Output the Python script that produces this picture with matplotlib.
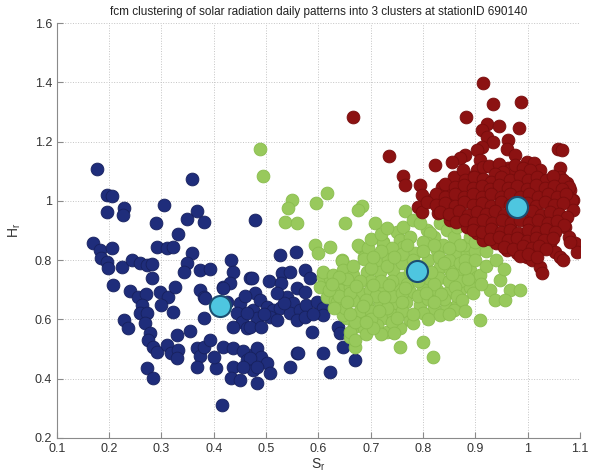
import matplotlib
matplotlib.use("Agg")
import matplotlib.pyplot as plt
import numpy as np

plt.rcParams['font.family'] = ['Liberation Sans', 'DejaVu Sans']

# cluster 1 (navy)
blue_pts = [
    (0.176, 1.107), (0.359, 1.074), (0.195, 1.020), (0.205, 1.017), (0.195, 0.962),
    (0.229, 0.977), (0.227, 0.952), (0.305, 0.986), (0.367, 0.967), (0.348, 0.938),
    (0.381, 0.930), (0.289, 0.927), (0.479, 0.936), (0.332, 0.888),
    (0.169, 0.857), (0.182, 0.834), (0.205, 0.840), (0.185, 0.806), (0.195, 0.795),
    (0.198, 0.773), (0.224, 0.778), (0.243, 0.801), (0.259, 0.789), (0.272, 0.784),
    (0.281, 0.787), (0.292, 0.843), (0.310, 0.840), (0.322, 0.845), (0.359, 0.825),
    (0.348, 0.789), (0.343, 0.761), (0.373, 0.767), (0.392, 0.769), (0.432, 0.801),
    (0.436, 0.761), (0.281, 0.739), (0.208, 0.716), (0.240, 0.697), (0.256, 0.677),
    (0.270, 0.686), (0.297, 0.694), (0.313, 0.677), (0.326, 0.711), (0.373, 0.700),
    (0.381, 0.677), (0.418, 0.711), (0.431, 0.722), (0.470, 0.739),
    (0.262, 0.649), (0.259, 0.621), (0.273, 0.621), (0.322, 0.626), (0.228, 0.598),
    (0.236, 0.570), (0.268, 0.587), (0.381, 0.604), (0.450, 0.655), (0.444, 0.621),
    (0.453, 0.593), (0.463, 0.570), (0.475, 0.632), (0.482, 0.604), (0.437, 0.576),
    (0.278, 0.555), (0.275, 0.531), (0.284, 0.508), (0.291, 0.491), (0.329, 0.548),
    (0.310, 0.514), (0.319, 0.486), (0.332, 0.497), (0.329, 0.469), (0.367, 0.503),
    (0.373, 0.477), (0.381, 0.508), (0.393, 0.531), (0.367, 0.441), (0.404, 0.435),
    (0.418, 0.508), (0.437, 0.503), (0.455, 0.495), (0.437, 0.441), (0.432, 0.402),
    (0.450, 0.396), (0.463, 0.463), (0.475, 0.430), (0.479, 0.486), (0.273, 0.435),
    (0.283, 0.402), (0.415, 0.312), (0.482, 0.385),
    (0.526, 0.818), (0.557, 0.827), (0.418, 0.705), (0.472, 0.739), (0.506, 0.731),
    (0.530, 0.756), (0.546, 0.761), (0.528, 0.722), (0.574, 0.767), (0.584, 0.739),
    (0.383, 0.671), (0.463, 0.621), (0.469, 0.576), (0.479, 0.688), (0.488, 0.666),
    (0.501, 0.643), (0.514, 0.632), (0.526, 0.638), (0.507, 0.609), (0.520, 0.598),
    (0.491, 0.576), (0.539, 0.677), (0.552, 0.655), (0.545, 0.621), (0.558, 0.705),
    (0.574, 0.694), (0.565, 0.632), (0.577, 0.649), (0.597, 0.660), (0.609, 0.638),
    (0.558, 0.598), (0.574, 0.609), (0.587, 0.559), (0.609, 0.615), (0.482, 0.503),
    (0.491, 0.475), (0.501, 0.452), (0.469, 0.469), (0.482, 0.441), (0.456, 0.441),
    (0.558, 0.486), (0.609, 0.486), (0.546, 0.441), (0.507, 0.419),
    (0.561, 0.488), (0.670, 0.463), (0.647, 0.508), (0.622, 0.424), (0.638, 0.576),
    (0.641, 0.553), (0.495, 0.620), (0.535, 0.655), (0.590, 0.620), (0.520, 0.690),
    (0.425, 0.660), (0.460, 0.680), (0.300, 0.650), (0.355, 0.560), (0.400, 0.475),
]

# cluster 2 (light green)
green_pts = [
    (0.489, 1.177), (0.494, 1.084), (0.616, 1.028), (0.549, 1.003), (0.542, 0.975),
    (0.596, 0.994), (0.683, 0.983), (0.676, 0.969), (0.536, 0.930), (0.558, 0.927),
    (0.651, 0.924), (0.765, 0.967), (0.593, 0.851), (0.600, 0.823), (0.622, 0.846),
    (0.644, 0.801), (0.679, 0.846), (0.692, 0.834), (0.686, 0.812), (0.724, 0.862),
    (0.750, 0.896), (0.762, 0.913), (0.756, 0.868), (0.775, 0.879), (0.781, 0.936),
    (0.807, 0.902), (0.820, 0.879), (0.832, 0.925), (0.845, 0.902), (0.858, 0.879),
    (0.864, 0.913), (0.708, 0.925), (0.794, 0.925), (0.813, 0.891),
    (0.654, 0.604), (0.667, 0.576), (0.660, 0.542), (0.670, 0.508), (0.756, 0.508),
    (0.800, 0.525), (0.818, 0.475),
    (0.609, 0.744), (0.622, 0.739), (0.635, 0.722), (0.641, 0.700), (0.603, 0.711),
    (0.616, 0.677), (0.632, 0.666),
    (0.676, 0.851), (0.695, 0.840), (0.723, 0.857), (0.742, 0.834), (0.762, 0.846),
    (0.784, 0.823), (0.807, 0.857), (0.826, 0.834), (0.838, 0.851), (0.864, 0.829),
    (0.883, 0.823), (0.644, 0.796), (0.686, 0.804), (0.711, 0.789), (0.733, 0.801),
    (0.609, 0.761), (0.628, 0.750), (0.647, 0.767), (0.666, 0.750), (0.692, 0.761),
    (0.718, 0.761), (0.742, 0.767), (0.832, 0.778), (0.851, 0.767), (0.871, 0.756),
    (0.890, 0.767), (0.902, 0.744),
    (0.628, 0.700), (0.660, 0.711), (0.679, 0.689), (0.698, 0.700), (0.723, 0.700),
    (0.748, 0.711), (0.774, 0.694), (0.800, 0.711), (0.826, 0.700), (0.845, 0.689),
    (0.871, 0.700), (0.890, 0.711),
    (0.635, 0.660), (0.666, 0.666), (0.692, 0.649), (0.718, 0.660), (0.749, 0.649),
    (0.768, 0.660), (0.794, 0.649), (0.820, 0.638), (0.845, 0.643), (0.864, 0.649),
    (0.647, 0.615), (0.673, 0.604), (0.698, 0.609), (0.723, 0.604), (0.742, 0.615),
    (0.774, 0.598), (0.800, 0.621), (0.832, 0.615), (0.858, 0.632),
    (0.660, 0.559), (0.686, 0.570), (0.711, 0.581), (0.730, 0.559), (0.756, 0.570),
    (0.781, 0.587), (0.669, 0.531), (0.909, 0.598), (0.896, 0.688),
    (0.909, 0.750), (0.928, 0.700), (0.947, 0.733), (0.966, 0.700), (0.937, 0.666),
    (0.985, 0.700), (0.956, 0.666),
    (0.760, 0.790), (0.780, 0.800), (0.810, 0.800), (0.830, 0.810), (0.850, 0.800),
    (0.870, 0.790), (0.760, 0.740), (0.740, 0.730), (0.810, 0.740), (0.830, 0.740),
    (0.850, 0.730), (0.870, 0.730), (0.700, 0.730), (0.720, 0.730), (0.680, 0.730),
    (0.770, 0.720), (0.790, 0.730), (0.820, 0.720), (0.860, 0.710), (0.710, 0.680),
    (0.740, 0.680), (0.760, 0.690), (0.790, 0.680), (0.810, 0.670), (0.840, 0.670),
    (0.650, 0.640), (0.680, 0.630), (0.700, 0.630), (0.730, 0.640), (0.760, 0.630),
    (0.780, 0.620), (0.700, 0.600), (0.690, 0.550), (0.740, 0.590), (0.720, 0.550),
    (0.670, 0.590), (0.640, 0.680), (0.660, 0.690), (0.620, 0.700), (0.880, 0.850),
    (0.900, 0.830), (0.880, 0.800), (0.900, 0.800), (0.920, 0.780), (0.890, 0.880),
    (0.870, 0.850), (0.700, 0.870), (0.720, 0.890), (0.740, 0.840), (0.800, 0.860),
    (0.820, 0.850),
    (0.655, 0.735), (0.672, 0.712), (0.705, 0.715), (0.735, 0.715), (0.765, 0.705),
    (0.805, 0.690), (0.835, 0.685), (0.865, 0.680), (0.885, 0.735), (0.855, 0.755),
    (0.815, 0.760), (0.775, 0.760), (0.730, 0.780), (0.700, 0.775), (0.665, 0.780),
    (0.640, 0.745), (0.625, 0.720), (0.690, 0.665), (0.725, 0.675), (0.760, 0.660),
    (0.820, 0.660), (0.850, 0.620), (0.810, 0.600), (0.750, 0.605), (0.715, 0.630),
    (0.685, 0.645), (0.655, 0.660), (0.705, 0.570), (0.745, 0.555), (0.690, 0.590),
    (0.760, 0.820), (0.800, 0.830), (0.850, 0.840), (0.720, 0.830), (0.705, 0.810),
    (0.745, 0.810), (0.790, 0.780), (0.840, 0.790), (0.880, 0.775), (0.910, 0.720),
    (0.875, 0.665), (0.660, 0.620), (0.630, 0.640), (0.880, 0.630), (0.730, 0.910),
    (0.770, 0.850), (0.900, 0.860), (0.920, 0.830), (0.940, 0.800), (0.955, 0.770),
]

# cluster 3 (dark red)
red_pts = [
    (0.665, 1.282), (0.914, 1.397), (0.933, 1.329), (0.987, 1.335), (0.882, 1.284),
    (0.922, 1.259), (0.944, 1.253), (0.912, 1.241), (0.984, 1.245), (0.922, 1.217),
    (0.934, 1.200), (0.912, 1.183), (0.902, 1.172), (0.963, 1.205), (0.960, 1.177),
    (0.976, 1.155), (1.058, 1.177), (1.065, 1.172), (0.735, 1.151), (0.880, 1.155),
    (0.871, 1.144), (0.855, 1.132), (0.823, 1.121), (0.909, 1.138), (0.902, 1.104),
    (0.915, 1.115), (0.963, 1.110), (0.966, 1.104), (0.998, 1.132), (1.011, 1.127),
    (1.024, 1.104), (1.062, 1.110), (1.062, 1.082), (1.075, 1.059), (1.081, 1.037),
    (1.087, 1.003), (0.762, 1.084), (0.765, 1.054), (0.794, 1.054), (0.797, 1.020),
    (0.820, 1.009), (0.791, 0.980), (0.797, 0.964), (0.836, 1.048), (0.851, 1.037),
    (0.867, 1.026), (0.858, 1.082), (0.890, 1.082), (0.877, 1.104), (0.848, 0.992),
    (0.829, 0.958), (0.845, 0.958), (1.071, 0.913), (1.078, 0.879), (1.090, 0.857),
    (1.094, 0.829), (1.036, 0.891), (1.043, 0.857), (1.052, 0.829), (1.062, 0.812),
    (0.998, 0.840), (1.011, 0.812),
    (0.851, 0.936), (0.871, 0.947), (0.883, 0.913), (0.902, 0.891), (0.915, 0.868),
    (0.940, 0.857), (0.960, 0.834), (0.979, 0.823), (0.998, 0.812), (1.008, 0.801),
    (1.024, 0.778), (1.027, 0.756), (1.068, 0.801), (1.081, 0.862), (1.068, 1.070),
    (1.078, 1.048), (1.084, 1.003), (1.087, 0.969),
    (0.925, 1.118), (0.945, 1.125), (0.952, 1.098), (0.975, 1.120), (0.990, 1.112),
    (1.005, 1.105), (0.938, 1.090),
    (0.880, 1.070), (0.897, 1.080), (0.915, 1.075), (0.930, 1.065), (0.948, 1.082),
    (0.965, 1.072), (0.985, 1.085), (1.000, 1.070), (1.018, 1.080), (1.035, 1.072),
    (1.048, 1.085),
    (0.842, 1.058), (0.860, 1.048), (0.878, 1.055), (0.895, 1.045), (0.912, 1.052),
    (0.928, 1.042), (0.945, 1.055), (0.962, 1.045), (0.980, 1.052), (0.998, 1.042),
    (1.015, 1.055), (1.032, 1.045), (1.050, 1.052), (1.065, 1.040),
    (0.825, 1.025), (0.842, 1.015), (0.860, 1.022), (0.878, 1.012), (0.895, 1.025),
    (0.912, 1.015), (0.930, 1.022), (0.948, 1.012), (0.965, 1.025), (0.985, 1.015),
    (1.002, 1.022), (1.020, 1.012), (1.038, 1.025), (1.055, 1.015), (1.072, 1.022),
    (0.808, 0.995), (0.825, 0.985), (0.842, 0.992), (0.860, 0.982), (0.878, 0.995),
    (0.895, 0.985), (0.912, 0.992), (0.930, 0.982), (0.948, 0.995), (0.965, 0.985),
    (0.998, 0.992), (1.015, 0.982), (1.032, 0.995), (1.050, 0.985), (1.068, 0.992),
    (0.832, 0.962), (0.850, 0.955), (0.868, 0.965), (0.885, 0.952), (0.902, 0.962),
    (0.920, 0.955), (0.938, 0.965), (0.955, 0.952), (0.972, 0.962), (0.990, 0.955),
    (1.008, 0.965), (1.025, 0.952), (1.042, 0.962), (1.060, 0.955), (1.075, 0.945),
    (0.862, 0.928), (0.880, 0.935), (0.898, 0.925), (0.915, 0.935), (0.932, 0.925),
    (0.950, 0.935), (0.968, 0.925), (0.985, 0.935), (1.002, 0.925), (1.020, 0.935),
    (1.038, 0.925), (1.055, 0.932), (1.070, 0.920),
    (0.895, 0.902), (0.912, 0.895), (0.930, 0.905), (0.948, 0.895), (0.965, 0.902),
    (0.982, 0.892), (1.000, 0.902), (1.018, 0.895), (1.035, 0.905), (1.052, 0.895),
    (0.928, 0.872), (0.945, 0.878), (0.962, 0.868), (0.980, 0.875), (0.998, 0.865),
    (1.015, 0.875), (1.030, 0.868), (1.048, 0.875),
    (0.955, 0.845), (0.972, 0.838), (0.990, 0.848), (1.008, 0.840), (1.022, 0.848),
    (1.035, 0.838), (0.985, 0.815), (1.000, 0.820), (1.018, 0.810),
]

# cluster centres
centers_x = [0.412, 0.789, 0.979]
centers_y = [0.646, 0.763, 0.980]

xticks = [0.1, 0.2, 0.3, 0.4, 0.5, 0.6, 0.7, 0.8, 0.9, 1, 1.1]
yticks = [0.2, 0.4, 0.6, 0.8, 1, 1.2, 1.4, 1.6]

fig = plt.figure(figsize=(5.92, 4.74), dpi=100)
ax = fig.add_axes([0.096, 0.076, 0.884, 0.875])

for pts, col, edge in [(blue_pts, '#1f2d7b', '#17215e'),
                       (green_pts, '#98c95c', '#8abd4e'),
                       (red_pts, '#8c1212', '#780c0c')]:
    p = np.array(pts)
    ax.scatter(p[:, 0], p[:, 1], s=85, c=col, edgecolors=edge, linewidths=0.6, zorder=3)

ax.scatter(centers_x, centers_y, s=230, c='#4ec6e0', edgecolors='#1b4f72',
           linewidths=1.5, zorder=5)

ax.set_xlim(0.1, 1.1)
ax.set_ylim(0.2, 1.6)
ax.set_xticks(xticks)
ax.set_yticks(yticks)
ax.set_xticklabels([str(t) for t in xticks])
ax.set_yticklabels([str(t) for t in yticks])
ax.grid(True, linestyle=':', color='#c4c4c4', linewidth=0.7)
ax.set_axisbelow(True)
for s in ['top', 'right']:
    ax.spines[s].set_visible(False)
for s in ['left', 'bottom']:
    ax.spines[s].set_color('#8a8a8a')
ax.tick_params(direction='in', length=4, color='#8a8a8a', labelsize=9,
               labelcolor='#333333')

ax.set_title('fcm clustering of solar radiation daily patterns into 3 clusters at stationID 690140',
             fontsize=8.5, color='#222222', pad=6)
ax.set_xlabel('$\\mathregular{S_r}$', fontsize=10, color='#333333', labelpad=1)
ax.set_ylabel('$\\mathregular{H_r}$', fontsize=10, color='#333333', labelpad=8)

fig.savefig('out.png', dpi=100)
